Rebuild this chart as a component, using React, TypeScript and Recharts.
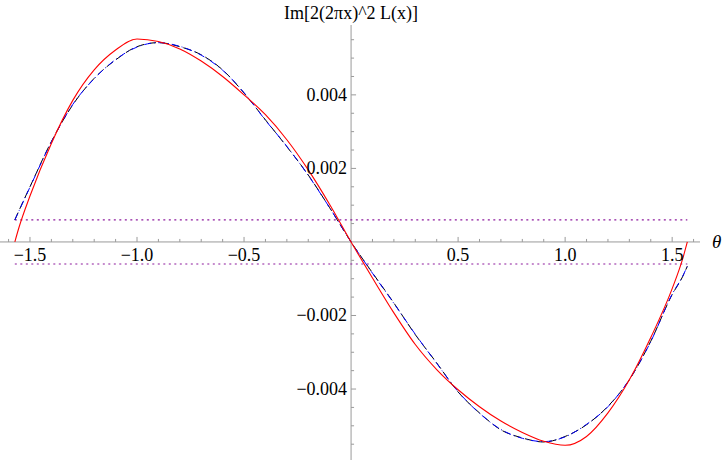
import React from "react";
import { LineChart, Line, XAxis, YAxis, ReferenceLine, ReferenceDot } from "recharts";

// theta samples (radians)
const thetas = [
  -1.5708, -1.55, -1.5, -1.4, -1.3, -1.2, -1.1, -1.0, -0.9, -0.8, -0.7, -0.6, -0.5, -0.4, -0.3, -0.2, -0.1, 0,
  0.1, 0.2, 0.3, 0.4, 0.5, 0.6, 0.7, 0.8, 0.9, 1.0, 1.1, 1.2, 1.3, 1.4, 1.5, 1.55, 1.5708,
];

// values, in units of 1e-3
const redVals = [
  0, 0.42, 1.25, 2.68, 3.85, 4.68, 5.22, 5.52, 5.45, 5.25, 4.92, 4.5, 4.0, 3.46, 2.78, 1.96, 1.02, 0,
  -0.98, -1.93, -2.79, -3.47, -4.02, -4.48, -4.87, -5.18, -5.42, -5.53, -5.29, -4.65, -3.75, -2.6, -1.27, -0.44, 0,
];
const blackVals = [
  0.6, 0.87, 1.5, 2.73, 3.73, 4.45, 4.95, 5.31, 5.42, 5.31, 5.09, 4.68, 4.05, 3.32, 2.59, 1.82, 0.93, 0,
  -0.84, -1.66, -2.52, -3.29, -4.08, -4.65, -5.11, -5.33, -5.44, -5.29, -4.97, -4.47, -3.75, -2.7, -1.43, -0.93, -0.66,
];
const blueVals = [
  0.6, 0.86, 1.49, 2.72, 3.74, 4.44, 4.96, 5.3, 5.42, 5.32, 5.08, 4.67, 4.06, 3.31, 2.6, 1.81, 0.93, 0,
  -0.85, -1.67, -2.51, -3.3, -4.07, -4.66, -5.1, -5.34, -5.43, -5.3, -4.96, -4.48, -3.74, -2.71, -1.42, -0.92, -0.66,
];

// dotted band
const bandLevel = 0.0006;
const bandFrom = -1.5708;
const bandTo = 1.5708;

const xMajorTicks = [-1.5, -1.0, -0.5, 0.5, 1.0, 1.5];
const xMajorLabels = ["\u22121.5", "\u22121.0", "\u22120.5", "0.5", "1.0", "1.5"];
const xMinorTicks = [
  -1.6, -1.4, -1.3, -1.2, -1.1, -0.9, -0.8, -0.7, -0.6, -0.4, -0.3, -0.2, -0.1,
  0.1, 0.2, 0.3, 0.4, 0.6, 0.7, 0.8, 0.9, 1.1, 1.2, 1.3, 1.4, 1.6,
];
const yMajorTicks = [0.004, 0.002, -0.002, -0.004];
const yMajorLabels = ["0.004", "0.002", "\u22120.002", "\u22120.004"];
const yMinorTicks = [
  0.0055, 0.005, 0.0045, 0.0035, 0.003, 0.0025, 0.0015, 0.001, 0.0005,
  -0.0005, -0.001, -0.0015, -0.0025, -0.003, -0.0035, -0.0045, -0.005, -0.0055,
];

const yTitle = "Im[2(2\u03c0x)^2 L(x)]";
const xTitle = "\u03b8";

const data = thetas.map((t, i) => ({
  theta: t,
  red: redVals[i] / 1000,
  black: blackVals[i] / 1000,
  blue: blueVals[i] / 1000,
}));

const AXIS = "#9a9a9a";
const BAND = "#8e1b9e";
const SERIF = "Liberation Serif";

const xTick = (len: number) => (p: any) => (
  <line x1={p.cx} y1={p.cy} x2={p.cx} y2={p.cy - len} stroke={AXIS} strokeWidth={1} />
);
const yTick = (len: number) => (p: any) => (
  <line x1={p.cx} y1={p.cy} x2={p.cx + len} y2={p.cy} stroke={AXIS} strokeWidth={1} />
);

const T = (props: any) => <text fontFamily={SERIF} fontSize={18} fill="#000" {...props} />;

// label renderers (recharts passes the mark's viewBox)
const below = (s: string) => (p: any) => {
  const vb = p.viewBox;
  return (
    <T x={vb.x + vb.width / 2} y={vb.y + vb.height + 19} textAnchor="middle">
      {s}
    </T>
  );
};
const leftOf = (s: string) => (p: any) => {
  const vb = p.viewBox;
  return (
    <T x={vb.x - 4} y={vb.y + vb.height / 2 + 6} textAnchor="end">
      {s}
    </T>
  );
};
const topLabel = (p: any) => {
  const vb = p.viewBox;
  return (
    <T x={vb.x + vb.width / 2} y={vb.y - 6} textAnchor="middle">
      {yTitle}
    </T>
  );
};
const rightLabel = (p: any) => {
  const vb = p.viewBox;
  return (
    <T x={vb.x + vb.width + 12} y={vb.y + vb.height / 2 + 6} textAnchor="start" fontSize={19} fontStyle="italic">
      {xTitle}
    </T>
  );
};

export default function App() {
  return (
    <div style={{ position: "absolute", left: 0, top: 0, width: 723, height: 460, background: "#fff", fontFamily: SERIF }}>
      <LineChart width={723} height={460} data={data} margin={{ top: 25, right: 23, left: 0, bottom: 0 }}>
        <XAxis dataKey="theta" type="number" domain={[-1.64, 1.63]} hide />
        <YAxis type="number" domain={[-0.00593, 0.0059]} allowDataOverflow hide />

        <ReferenceLine y={0} stroke={AXIS} label={rightLabel} />
        <ReferenceLine x={0} stroke={AXIS} label={topLabel} />

        {xMinorTicks.map((t) => (
          <ReferenceDot key={`xm${t}`} x={t} y={0} r={0} shape={xTick(3)} />
        ))}
        {xMajorTicks.map((t, i) => (
          <ReferenceDot key={`xM${t}`} x={t} y={0} r={0} shape={xTick(5)} label={below(xMajorLabels[i])} />
        ))}
        {yMinorTicks.map((v) => (
          <ReferenceDot key={`ym${v}`} x={0} y={v} r={0} shape={yTick(3)} />
        ))}
        {yMajorTicks.map((v, i) => (
          <ReferenceDot key={`yM${v}`} x={0} y={v} r={0} shape={yTick(5)} label={leftOf(yMajorLabels[i])} />
        ))}

        <ReferenceLine
          segment={[{ x: bandFrom, y: bandLevel }, { x: bandTo, y: bandLevel }]}
          stroke={BAND}
          strokeWidth={1.2}
          strokeDasharray="2 3.5"
        />
        <ReferenceLine
          segment={[{ x: bandFrom, y: -bandLevel }, { x: bandTo, y: -bandLevel }]}
          stroke={BAND}
          strokeWidth={1.2}
          strokeDasharray="2 3.5"
        />

        <Line type="monotone" dataKey="black" stroke="#000" strokeWidth={1} strokeDasharray="8 4" dot={false} isAnimationActive={false} />
        <Line type="monotone" dataKey="blue" stroke="#0000ff" strokeWidth={1} strokeDasharray="7 3 1 3" dot={false} isAnimationActive={false} />
        <Line type="monotone" dataKey="red" stroke="#ff0000" strokeWidth={1.1} dot={false} isAnimationActive={false} />
      </LineChart>
    </div>
  );
}
